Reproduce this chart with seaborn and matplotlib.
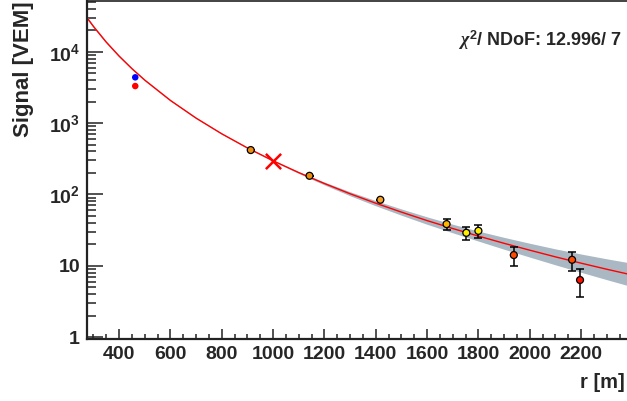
import numpy as np
import pandas as pd
import matplotlib
matplotlib.use("Agg")
import matplotlib.pyplot as plt
import matplotlib.ticker as mticker
import seaborn as sns

# ---- data ----
# detector stations (r [m], signal [VEM], lower/upper error, colour)
st_r = [913, 1142, 1418, 1676, 1753, 1800, 1938, 2165, 2196]
st_s = [418, 182, 84, 38.3, 28.9, 30.8, 14.1, 12.1, 6.3]
st_lo = [418, 182, 84, 31.9, 22.8, 24.6, 10.0, 8.5, 3.6]
st_hi = [418, 182, 84, 45.5, 34.8, 37.0, 18.0, 15.8, 8.9]
st_col = ["#ee8c10", "#ee8c10", "#f5a020", "#ffb400", "#ffee00", "#ffee00",
          "#ff4a00", "#ff4a00", "#ff1000"]

# saturated station (no outline)
sat_r = [463, 463]
sat_s = [4375, 3300]
sat_col = ["#0000ff", "#ff0000"]

# shower-size marker S(1000)
s1000_r = [1000]
s1000_s = [296]

# fitted LDF, with band half-width in decades
fit_r = [275, 300, 350, 400, 450, 500, 600, 700, 800, 900, 1000, 1100, 1200,
         1300, 1400, 1500, 1600, 1700, 1800, 1900, 2000, 2100, 2200, 2300, 2400]
fit_s = [29950, 22620, 13620, 8685, 5790, 4000, 2076, 1173, 707, 448, 296, 202,
         142, 102, 75.2, 56.4, 42.9, 33.2, 26.0, 20.6, 16.5, 13.3, 10.85, 8.92, 7.39]
fit_dw = [0.018, 0.016, 0.014, 0.013, 0.012, 0.011, 0.01, 0.009, 0.008, 0.008, 0.008,
          0.012, 0.02, 0.028, 0.036, 0.044, 0.052, 0.06, 0.07, 0.083, 0.097, 0.112,
          0.128, 0.146, 0.165]

x_ticks = [400, 600, 800, 1000, 1200, 1400, 1600, 1800, 2000, 2200]
y_ticks = [1, 10, 100, 1000, 10000]
y_labels = ["1", "10", r"$\mathbf{10^{2}}$", r"$\mathbf{10^{3}}$", r"$\mathbf{10^{4}}$"]
chi_text = r"$\chi^{2}$/ NDoF: 12.996/ 7"

# ---- plotting ----
sns.set_style("white")
plt.rcParams["font.family"] = ["Liberation Sans", "DejaVu Sans"]
plt.rcParams["font.weight"] = "bold"
plt.rcParams["mathtext.fontset"] = "custom"
plt.rcParams["mathtext.rm"] = "Liberation Sans:bold"
plt.rcParams["mathtext.bf"] = "Liberation Sans:bold"
plt.rcParams["mathtext.it"] = "Liberation Serif:italic"

fig = plt.figure(figsize=(6.27, 4.01), dpi=100)
ax = fig.add_axes([87 / 627, 62 / 401, 1 - 87 / 627, 338 / 401])

fit_df = pd.DataFrame({"r": fit_r, "s": fit_s, "dw": fit_dw})
lo = fit_df["s"] / 10 ** fit_df["dw"]
hi = fit_df["s"] * 10 ** fit_df["dw"]
ax.fill_between(fit_df["r"], lo, hi, color="#aab8c3", lw=0, zorder=1)
sns.lineplot(data=fit_df, x="r", y="s", color="#ff0000", lw=1.0, ax=ax,
             zorder=2, sort=False)

st_df = pd.DataFrame({"r": st_r, "s": st_s, "lo": st_lo, "hi": st_hi,
                      "col": st_col})
yerr = np.vstack([st_df["s"] - st_df["lo"], st_df["hi"] - st_df["s"]])
ax.errorbar(st_df["r"], st_df["s"], yerr=yerr, fmt="none", ecolor="black",
            elinewidth=1.1, capsize=3.2, capthick=1.1, zorder=3)
sns.scatterplot(data=st_df, x="r", y="s", hue="col",
                palette={c: c for c in st_col}, edgecolor="black",
                linewidth=0.9, s=25, legend=False, ax=ax, zorder=4)

sat_df = pd.DataFrame({"r": sat_r, "s": sat_s, "col": sat_col})
sns.scatterplot(data=sat_df, x="r", y="s", hue="col",
                palette={c: c for c in sat_col}, edgecolor="none",
                s=22, legend=False, ax=ax, zorder=4)

sns.scatterplot(x=s1000_r, y=s1000_s, marker="x", color="#ff0000", s=120,
                linewidth=1.8, ax=ax, zorder=5)

ax.set_yscale("log")
ax.set_xlim(275, 2379)
ax.set_ylim(0.938, 51400)

ax.set_xticks(x_ticks)
ax.set_xticklabels([str(v) for v in x_ticks])
ax.xaxis.set_minor_locator(mticker.MultipleLocator(50))
ax.set_yticks(y_ticks)
ax.set_yticklabels(y_labels)
ax.yaxis.set_minor_locator(mticker.LogLocator(base=10, subs=np.arange(2, 10)))
ax.yaxis.set_minor_formatter(mticker.NullFormatter())

ax.tick_params(axis="x", which="major", direction="in", length=7.5, width=1.1,
               labelsize=14, pad=5, bottom=True, top=False, color="#222222")
ax.tick_params(axis="x", which="minor", direction="in", length=3.8, width=1.1,
               bottom=True, top=False, color="#222222")
ax.tick_params(axis="y", which="major", direction="in", length=11.5, width=1.1,
               labelsize=14, pad=5, left=True, right=False, color="#222222")
ax.tick_params(axis="y", which="minor", direction="in", length=6.5, width=1.1,
               left=True, right=False, color="#222222")
for lab in ax.get_xticklabels() + ax.get_yticklabels():
    lab.set_fontweight("bold")

for side in ["left", "bottom"]:
    ax.spines[side].set_linewidth(1.6)
    ax.spines[side].set_color("#222222")
ax.spines["top"].set_linewidth(1.2)
ax.spines["top"].set_color("#222222")
ax.spines["right"].set_visible(False)

ax.set_xlabel("")
ax.set_ylabel("")
fig.text(625 / 627, 1 - 383 / 401, "r [m]", ha="right", va="center",
         fontsize=14.5, fontweight="bold")
fig.text(23 / 627, 1 - 1 / 401, "Signal [VEM]", ha="center", va="top",
         rotation=90, fontsize=16, fontweight="bold")
fig.text(622 / 627, 1 - 40 / 401, chi_text, ha="right", va="center",
         fontsize=13, fontweight="bold")

fig.savefig("out.png", dpi=100)
